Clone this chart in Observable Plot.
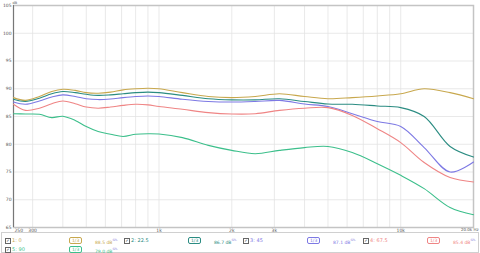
<!DOCTYPE html>
<html><head><meta charset="utf-8">
<script src="https://cdn.jsdelivr.net/npm/d3@7"></script>
<script src="https://cdn.jsdelivr.net/npm/@observablehq/plot@0.6"></script>
<style>
html,body{margin:0;padding:0;background:#fff;width:480px;height:253px;overflow:hidden;font-family:"DejaVu Sans",sans-serif;}
#chart{position:absolute;left:0;top:0;}
#legend{position:absolute;left:1px;top:232px;width:476px;height:19px;border:1px solid #d0d0d0;}
.item{position:absolute;font-size:5px;line-height:6px;white-space:nowrap;}
.cb{display:inline-block;width:4px;height:4px;border:0.6px solid #666;font-size:4px;line-height:4px;text-align:center;color:#222;vertical-align:middle;margin-right:1px;}
.ic{position:absolute;font-size:4.5px;line-height:5px;border:0.8px solid;border-radius:2px;padding:0 2px;}
.val{position:absolute;font-size:4.5px;line-height:6px;white-space:nowrap;}
.val sup{font-size:3px;color:#8a8ae0;}
</style></head>
<body><div id="chart"></div><div id="legend"></div>
<script>
const freqs = [250,280,320,360,400,450,500,560,630,710,800,900,1000,1250,1600,2000,2500,3150,4000,5000,6300,8000,10000,12500,16000,20000];
const s1 = [88.4,87.9,88.6,89.5,89.9,89.7,89.3,89.2,89.4,89.8,90.0,90.1,90.0,89.3,88.6,88.4,88.6,89.1,88.6,88.2,88.4,88.7,89.1,90.0,89.3,88.2];
const s2 = [88.1,87.7,88.3,89.1,89.5,89.3,89.0,88.8,88.9,89.1,89.3,89.4,89.3,88.8,88.2,88.0,88.0,88.2,87.7,87.25,87.2,86.9,86.6,85.0,79.6,77.7];
const s3 = [87.6,87.2,87.8,88.5,88.9,88.6,88.2,88.05,88.15,88.4,88.6,88.7,88.6,88.1,87.7,87.6,87.7,87.9,87.25,86.8,85.5,84.1,83.2,79.4,75.0,76.8];
const s4 = [87.2,86.1,86.5,87.3,87.8,87.3,86.7,86.5,86.7,87.0,87.2,87.1,86.8,86.3,85.7,85.45,85.5,86.1,86.5,86.6,85.2,82.8,80.3,76.7,74.0,73.2];
const s5 = [85.5,85.45,85.4,84.8,85.05,84.3,83.2,82.3,81.8,81.4,81.8,81.9,81.85,81.2,79.8,78.9,78.3,78.9,79.4,79.6,78.5,76.5,74.4,72.0,68.6,67.3];
const seriesNames = ["1: 0","2: 22.5","3: 45","4: 67.5","5: 90"];
const seriesValues = ["88.5 dB","86.7 dB","87.1 dB","85.4 dB","79.0 dB"];
const colors = ["#c8a84e","#2b8c82","#7d79e4","#ef8585","#3cbf8b"];
const xTicks = [250,300,400,500,600,700,800,900,1000,2000,3000,4000,5000,6000,7000,8000,9000,10000,20000];
const xTickLabels = ["250","300","400","500","600","700","800","900","1k","2k","3k","4k","5k","6k","7k","8k","9k","10k","20.0k Hz"];
const yTicks = [65,70,75,80,85,90,95,100,105];

const all = [s1,s2,s3,s4,s5];
const rows = [];
all.forEach((s,i)=>s.forEach((v,j)=>rows.push({f:freqs[j],db:v,k:seriesNames[i]})));
const lab = d => xTickLabels[xTicks.indexOf(d)];
const midTicks = xTicks.slice(1, -1);

const chart = Plot.plot({
  width:480, height:232,
  marginLeft:13, marginRight:7, marginTop:5, marginBottom:5,
  style:{fontSize:"4.5px", fontFamily:"DejaVu Sans, sans-serif", color:"#555", background:"#fff"},
  x:{type:"log", domain:[250,20000], label:null},
  y:{domain:[65,105], label:null},
  color:{domain:seriesNames, range:colors},
  marks:[
    Plot.gridX(xTicks,{stroke:"#e3e3e3", strokeOpacity:1, strokeWidth:0.8}),
    Plot.gridY(yTicks,{stroke:"#e3e3e3", strokeOpacity:1, strokeWidth:0.8}),
    Plot.frame({stroke:"#c4c4c4", strokeWidth:1.5}),
    Plot.ruleX([250],{stroke:"#777", strokeWidth:1}),
    Plot.line(rows,{x:"f", y:"db", z:"k", stroke:"k", strokeWidth:1.1, curve:"catmull-rom"}),
    Plot.axisX(midTicks,{tickSize:0, tickPadding:1.5, tickFormat:lab, fill:"#555", label:null}),
    Plot.axisX([xTicks[0]],{tickSize:0, tickPadding:1.5, tickFormat:lab, fill:"#555", textAnchor:"start", dx:1, label:null}),
    Plot.axisX([xTicks[xTicks.length-1]],{tickSize:0, tickPadding:1, tickFormat:lab, fill:"#555", textAnchor:"end", dx:5, fontSize:4, label:null}),
    Plot.axisY(yTicks,{tickSize:0, tickPadding:2, fill:"#555", label:null}),
    Plot.text(["dB"],{frameAnchor:"top-left", dx:-1, dy:-4, textAnchor:"start", fontSize:3.5, fill:"#555"})
  ]
});
document.getElementById("chart").appendChild(chart);

const leg = document.getElementById("legend");
const pos = [[3,4],[122,4],[241,4],[361,4],[3,13]];
seriesNames.forEach((n,i)=>{
  const [x,y] = pos[i];
  const it = document.createElement("div");
  it.className="item"; it.style.left=x+"px"; it.style.top=y+"px"; it.style.color=colors[i];
  it.innerHTML = `<span class="cb">✓</span>${n}`;
  leg.appendChild(it);
  const ic = document.createElement("div");
  ic.className="ic"; ic.style.left=(x+64)+"px"; ic.style.top=(y-0.5)+"px"; ic.style.color=colors[i]; ic.style.borderColor=colors[i];
  ic.textContent="1/3";
  leg.appendChild(ic);
  const v = document.createElement("div");
  v.className="val"; v.style.left=(x+90)+"px"; v.style.top=y+"px"; v.style.color=colors[i];
  v.innerHTML = `${seriesValues[i]}<sup>SPL</sup>`;
  leg.appendChild(v);
});
</script></body></html>
